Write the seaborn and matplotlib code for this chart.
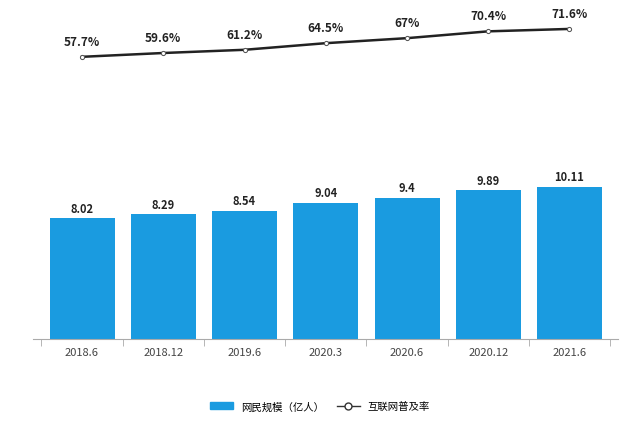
import matplotlib.pyplot as plt
import seaborn as sns
import pandas as pd
from matplotlib.lines import Line2D
from matplotlib.patches import Patch

plt.rcParams['font.family'] = ['Noto Sans CJK SC', 'DejaVu Sans']

periods = ['2018.6', '2018.12', '2019.6', '2020.3', '2020.6', '2020.12', '2021.6']
users = [8.02, 8.29, 8.54, 9.04, 9.4, 9.89, 10.11]
rate = [57.7, 59.6, 61.2, 64.5, 67, 70.4, 71.6]
rate_labels = ['57.7%', '59.6%', '61.2%', '64.5%', '67%', '70.4%', '71.6%']

df = pd.DataFrame({'period': periods, 'users': users, 'rate': rate})

fig = plt.figure(figsize=(6.4, 4.31), dpi=100)
ax = fig.add_axes([0.052, 0.211, 0.914, 0.754])
sns.barplot(data=df, x='period', y='users', color='#1a9be0', width=0.8,
            saturation=1, ax=ax)
ax.set_ylim(0, 21.6)
for i, v in enumerate(users):
    ax.text(i, v + 0.25, str(v), ha='center', va='bottom', fontsize=8,
            fontweight='bold', color='#222222')

ax2 = ax.twinx()
sns.lineplot(x=range(len(periods)), y=rate, ax=ax2, color='#222222', lw=1.8,
             marker='o', markersize=3, markerfacecolor='white',
             markeredgecolor='#555555')
ax2.set_ylim(-83, 79)
for i, v in enumerate(rate):
    ax2.text(i, v + 4.5, rate_labels[i], ha='center', va='bottom', fontsize=8.5,
             fontweight='bold', color='#222222')

for a in (ax, ax2):
    a.set_yticks([])
    a.set_xlabel('')
    a.set_ylabel('')
    for s in ('top', 'left', 'right'):
        a.spines[s].set_visible(False)
ax.spines['bottom'].set_color('#aaaaaa')
ax2.spines['bottom'].set_visible(False)
ax.set_xlim(-0.6, 6.6)
ax.set_xticks(range(len(periods)))
ax.set_xticks([i + 0.5 for i in range(-1, 7)], minor=True)
ax.tick_params(axis='x', which='minor', length=5, color='#aaaaaa')
ax.tick_params(axis='x', which='major', length=0, labelsize=8, labelcolor='#444444', pad=6)

handles = [Patch(color='#1a9be0'),
           Line2D([], [], color='#333333', lw=1, marker='o', markersize=5,
                  markerfacecolor='white')]
fig.legend(handles, ['网民规模（亿人）', '互联网普及率'], loc='center',
           bbox_to_anchor=(0.5, 0.055), ncol=2, frameon=False, fontsize=7.5,
           handlelength=2.2, columnspacing=1.2)

fig.savefig('out.png', dpi=100)
